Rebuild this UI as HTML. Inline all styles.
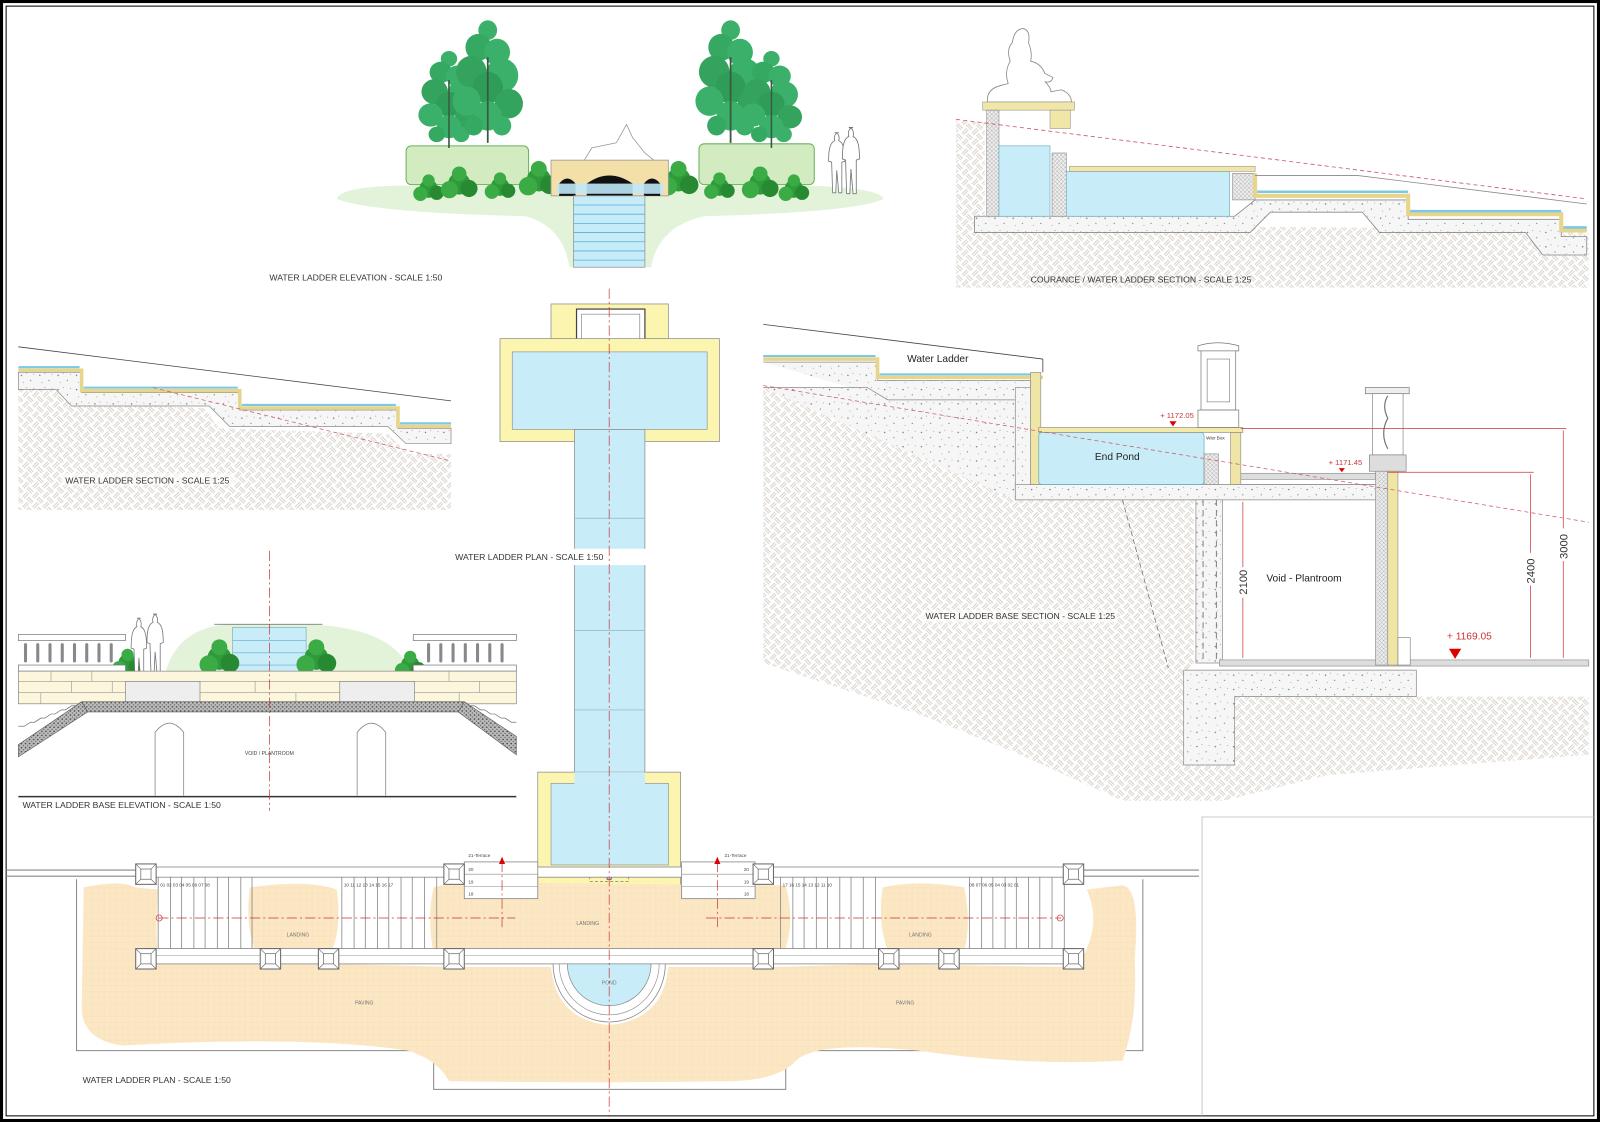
<!DOCTYPE html>
<html><head><meta charset="utf-8"><style>
html,body{margin:0;padding:0;background:#fff;}
svg{display:block;}
text{font-family:"Liberation Sans",sans-serif;}
</style></head><body>
<svg width="1600" height="1122" viewBox="0 0 1568 1100" preserveAspectRatio="none" xmlns="http://www.w3.org/2000/svg">
<defs>
<pattern id="hatch" width="14" height="14" patternUnits="userSpaceOnUse" patternTransform="rotate(45)">
<rect width="14" height="14" fill="#fff"/>
<path d="M0 3H7M0 5H7M7 10H14M7 12H14M3 7V14M5 7V14M10 0V7M12 0V7" stroke="#d4ccc4" stroke-width="0.9"/>
</pattern>
<pattern id="conc" width="18" height="14" patternUnits="userSpaceOnUse">
<rect width="18" height="14" fill="#f6f6f6"/>
<circle cx="3" cy="4" r="0.7" fill="#777"/><circle cx="12" cy="9" r="0.6" fill="#777"/><circle cx="8" cy="2" r="0.5" fill="#999"/><circle cx="15" cy="3" r="0.5" fill="#999"/><circle cx="5" cy="11" r="0.5" fill="#999"/>
</pattern>
<pattern id="grid" width="6" height="6" patternUnits="userSpaceOnUse">
<rect width="6" height="6" fill="#fbe7c3"/><path d="M0 0H6M0 0V6" stroke="#f2dab0" stroke-width="0.4"/>
</pattern>
<pattern id="xh" width="4" height="4" patternUnits="userSpaceOnUse">
<rect width="4" height="4" fill="#eee"/><path d="M0 0L4 4M4 0L0 4" stroke="#999" stroke-width="0.4"/>
</pattern>
<pattern id="grav" width="4" height="4" patternUnits="userSpaceOnUse">
<rect width="4" height="4" fill="#bbb"/><circle cx="1" cy="1" r="0.8" fill="#444"/><circle cx="3" cy="3" r="0.7" fill="#666"/>
</pattern>
<g id="tree">
<line x1="0" y1="-100" x2="0" y2="0" stroke="#555" stroke-width="1.2"/>
<circle cx="0" cy="-92" r="8" fill="#3bb06a"/><circle cx="-8" cy="-78" r="11" fill="#35a862"/><circle cx="8" cy="-74" r="11" fill="#3bb06a"/>
<circle cx="-14" cy="-58" r="13" fill="#33a35e"/><circle cx="12" cy="-55" r="14" fill="#3bb06a"/><circle cx="0" cy="-45" r="13" fill="#2f9d59"/>
<circle cx="-18" cy="-34" r="12" fill="#3bb06a"/><circle cx="18" cy="-32" r="12" fill="#33a35e"/><circle cx="0" cy="-22" r="12" fill="#3bb06a"/>
<circle cx="-12" cy="-14" r="8" fill="#35a862"/><circle cx="12" cy="-14" r="8" fill="#3bb06a"/>
<line x1="0" y1="-70" x2="0" y2="0" stroke="#3a5a40" stroke-width="1.5"/>
</g>
<g id="bush">
<circle cx="0" cy="0" r="9" fill="#2f9a3a"/><circle cx="-8" cy="5" r="7" fill="#3aab45"/><circle cx="8" cy="4" r="7" fill="#278a32"/><circle cx="0" cy="-8" r="6" fill="#3aab45"/>
</g>
<g id="pier"><rect x="-10" y="-10" width="20" height="20" fill="#fff" stroke="#666" stroke-width="1"/><rect x="-5" y="-5" width="10" height="10" fill="none" stroke="#666" stroke-width="0.7"/><path d="M-10-10L-5-5M10-10L5-5M-10 10L-5 5M10 10L5 5" stroke="#666" stroke-width="0.6"/></g>
<g id="person"><path d="M0 0c-4 0-5 5-4 8c-5 2-6 10-6 20l3 1l1 30h3l1-22l2 22h3l0-30l3-1c0-10-1-18-6-20c1-3 0-8-4-8z" fill="#fff" stroke="#777" stroke-width="0.8"/></g>
</defs>

<rect x="1.5" y="1.5" width="1565" height="1097" fill="#fff" stroke="#000" stroke-width="3"/>
<rect x="6" y="6" width="1556" height="1088" fill="none" stroke="#000" stroke-width="1"/>

<!-- TOP ELEVATION -->
<path d="M330,195 Q335,182 400,182 L790,182 Q862,184 866,195 Q840,208 690,212 Q645,222 638,262 L558,262 Q552,222 515,212 Q360,208 330,195Z" fill="#e2f3da"/>
<rect x="398" y="143" width="120" height="38" rx="5" fill="#d2ebc0" stroke="#6bb25a" stroke-width="1"/>
<rect x="685" y="141" width="113" height="40" rx="5" fill="#d2ebc0" stroke="#6bb25a" stroke-width="1"/>
<use href="#tree" transform="translate(440,145) scale(1,0.95)"/>
<use href="#tree" transform="translate(478,140) scale(1.15,1.2)"/>
<use href="#tree" transform="translate(716,140) scale(1.15,1.2)"/>
<use href="#tree" transform="translate(756,145) scale(1,0.95)"/>
<use href="#bush" transform="translate(420,185)"/>
<use href="#bush" transform="translate(450,180) scale(1.2)"/>
<use href="#bush" transform="translate(490,183)"/>
<use href="#bush" transform="translate(528,176) scale(1.3)"/>
<use href="#bush" transform="translate(665,176) scale(1.3)"/>
<use href="#bush" transform="translate(705,183)"/>
<use href="#bush" transform="translate(745,180) scale(1.2)"/>
<use href="#bush" transform="translate(778,185)"/>
<path d="M572,158 L580,145 L604,140 L614,122 L620,135 L632,150 L642,158Z" fill="#fff" stroke="#999" stroke-width="0.8"/>
<rect x="540" y="157" width="115" height="35" fill="#f3dfa8" stroke="#999" stroke-width="0.8"/>
<path d="M548,192 V180 Q556,170 564,180 V192Z M575,192 V180 Q597,164 620,180 V192Z M631,192 V180 Q639,170 647,180 V192Z" fill="#111"/>
<rect x="546" y="180" width="104" height="10" fill="#bfe8f8" opacity="0.9"/>
<rect x="562" y="192" width="70" height="70" fill="#c7ecf9" stroke="#999" stroke-width="0.8"/>
<g stroke="#5aaed0" stroke-width="0.8"><line x1="562" y1="201" x2="632" y2="201"/><line x1="562" y1="210" x2="632" y2="210"/><line x1="562" y1="219" x2="632" y2="219"/><line x1="562" y1="228" x2="632" y2="228"/><line x1="562" y1="237" x2="632" y2="237"/><line x1="562" y1="246" x2="632" y2="246"/><line x1="562" y1="255" x2="632" y2="255"/></g>
<use href="#person" transform="translate(822,130)"/>
<use href="#person" transform="translate(836,125) scale(1.05,1.1)"/>
<text x="264" y="275" font-size="8.5" fill="#333">WATER LADDER ELEVATION - SCALE 1:50</text>

<!-- COURANCE SECTION -->
<path d="M937,118 L965,120 L965,282 L937,282Z M937,220 L1557,225 L1557,282 L937,282Z" fill="url(#hatch)"/>
<path d="M955,212 L1210,212 L1230,196 L1380,196 L1380,215 L1530,215 L1530,232 L1555,232 L1555,250 L1512,250 L1495,228 L1352,228 L1335,208 L1245,208 L1225,228 L955,228Z" fill="url(#conc)" stroke="#888" stroke-width="0.8"/>
<path d="M968,100 Q966,88 980,84 L988,82 Q984,70 990,60 Q986,48 992,42 Q994,28 1003,28 Q1010,30 1008,42 Q1012,52 1010,60 Q1020,62 1024,72 L1032,76 Q1030,82 1024,80 Q1030,86 1030,90 L1040,88 Q1050,92 1050,100Z" fill="#fff" stroke="#888" stroke-width="0.8"/>
<rect x="963" y="100" width="90" height="8" fill="#f0e6a8" stroke="#999" stroke-width="0.6"/>
<rect x="967" y="108" width="12" height="104" fill="url(#xh)" stroke="#888" stroke-width="0.6"/>
<rect x="979" y="143" width="50" height="69" fill="#c9ecf9" stroke="#6ab" stroke-width="0.6"/>
<rect x="1029" y="108" width="20" height="18" fill="#f0e6a8" stroke="#999" stroke-width="0.6"/>
<rect x="1031" y="150" width="14" height="62" fill="url(#xh)" stroke="#888" stroke-width="0.6"/>
<rect x="1045" y="168" width="160" height="44" fill="#c9ecf9" stroke="#6ab" stroke-width="0.6"/>
<rect x="1048" y="163" width="182" height="5" fill="#f0e6a8" stroke="#999" stroke-width="0.6"/>
<rect x="1208" y="170" width="22" height="26" fill="url(#xh)" stroke="#888" stroke-width="0.6"/>
<path d="M1230,170 V192 H1380 V210 H1530 V226 H1555" fill="none" stroke="#e6d58a" stroke-width="4"/>
<path d="M1232,188 H1380 M1382,207 H1530 M1532,223 H1555" stroke="#7cc8e8" stroke-width="2.5"/>
<path d="M1230,172 L1330,172 L1555,200" fill="none" stroke="#888" stroke-width="0.8"/>
<line x1="937" y1="117" x2="1555" y2="195" stroke="#c56" stroke-width="0.8" stroke-dasharray="4,3"/>
<text x="1010" y="277" font-size="8.5" fill="#333">COURANCE / WATER LADDER SECTION - SCALE 1:25</text>

<!-- WATER LADDER SECTION (left) -->
<path d="M18,375 L50,380 L70,395 L200,400 L215,420 L380,425 L400,445 L442,445 L442,500 L18,500Z" fill="url(#hatch)"/>
<path d="M18,365 L80,365 L80,385 L235,385 L235,402 L390,402 L390,420 L442,420 L442,435 L398,435 L380,418 L225,418 L205,398 L70,398 L55,382 L18,382Z" fill="url(#conc)" stroke="#888" stroke-width="0.7"/>
<path d="M18,363 H80 V383 H235 V400 H390 V418 H442" fill="none" stroke="#e6d58a" stroke-width="3.5"/>
<path d="M18,360 H78 M82,380 H233 M237,397 H388 M392,415 H442" stroke="#7cc8e8" stroke-width="2"/>
<line x1="18" y1="340" x2="442" y2="393" stroke="#444" stroke-width="0.8"/>
<line x1="150" y1="380" x2="442" y2="452" stroke="#c56" stroke-width="0.7" stroke-dasharray="4,3"/>
<rect x="60" y="464" width="170" height="12" fill="#fff" opacity="0.6"/>
<text x="64" y="474" font-size="8.5" fill="#333">WATER LADDER SECTION - SCALE 1:25</text>

<!-- BASE ELEVATION (left) -->
<path d="M160,668 Q170,615 225,612 L300,612 Q395,615 405,668Z" fill="#e2f3da"/>
<rect x="228" y="615" width="72" height="53" fill="#c9ecf9" stroke="#6ab" stroke-width="0.6"/>
<g stroke="#5aaed0" stroke-width="0.6"><line x1="228" y1="628" x2="300" y2="628"/><line x1="228" y1="640" x2="300" y2="640"/><line x1="228" y1="652" x2="300" y2="652"/></g>
<line x1="210" y1="612" x2="316" y2="612" stroke="#666" stroke-width="0.8"/>
<use href="#bush" transform="translate(215,645) scale(1.3)"/><use href="#bush" transform="translate(310,645) scale(1.3)"/>
<use href="#bush" transform="translate(125,650)"/><use href="#bush" transform="translate(402,652)"/>
<use href="#person" transform="translate(138,606) scale(0.95,1.05)"/><use href="#person" transform="translate(154,602)"/>
<g fill="#fff" stroke="#777" stroke-width="0.7">
<rect x="18" y="622" width="105" height="6"/><rect x="405" y="622" width="101" height="6"/>
<rect x="18" y="652" width="105" height="6"/><rect x="405" y="652" width="101" height="6"/>
</g>
<g stroke="#888" stroke-width="3" stroke-linecap="round">
<line x1="25" y1="632" x2="25" y2="648"/><line x1="37" y1="632" x2="37" y2="648"/><line x1="49" y1="632" x2="49" y2="648"/><line x1="61" y1="632" x2="61" y2="648"/><line x1="73" y1="632" x2="73" y2="648"/><line x1="85" y1="632" x2="85" y2="648"/><line x1="97" y1="632" x2="97" y2="648"/><line x1="109" y1="632" x2="109" y2="648"/>
<line x1="420" y1="632" x2="420" y2="648"/><line x1="432" y1="632" x2="432" y2="648"/><line x1="444" y1="632" x2="444" y2="648"/><line x1="456" y1="632" x2="456" y2="648"/><line x1="468" y1="632" x2="468" y2="648"/><line x1="480" y1="632" x2="480" y2="648"/><line x1="492" y1="632" x2="492" y2="648"/>
</g>
<rect x="18" y="658" width="488" height="32" fill="#fbf6dc" stroke="#888" stroke-width="0.7"/>
<g stroke="#999" stroke-width="0.6"><line x1="18" y1="668" x2="506" y2="668"/><line x1="18" y1="679" x2="506" y2="679"/>
<line x1="50" y1="658" x2="50" y2="668"/><line x1="90" y1="658" x2="90" y2="668"/><line x1="70" y1="668" x2="70" y2="679"/><line x1="110" y1="668" x2="110" y2="679"/><line x1="40" y1="679" x2="40" y2="690"/><line x1="250" y1="668" x2="250" y2="679"/><line x1="290" y1="679" x2="290" y2="690"/><line x1="440" y1="658" x2="440" y2="668"/><line x1="470" y1="668" x2="470" y2="679"/><line x1="450" y1="679" x2="450" y2="690"/></g>
<rect x="123" y="668" width="73" height="22" fill="#eee" stroke="#777" stroke-width="0.6"/>
<rect x="333" y="668" width="73" height="22" fill="#eee" stroke="#777" stroke-width="0.6"/>
<rect x="80" y="688" width="375" height="10" fill="url(#grav)" stroke="#555" stroke-width="0.6"/>
<path d="M80,688 L18,730 L18,742 L86,698Z M455,688 L506,722 L506,740 L449,698Z" fill="url(#grav)" stroke="#555" stroke-width="0.6"/>
<path d="M80,688 L74,692 L70,692 L64,696 L60,696 L54,700 L50,700 L44,704 L40,704 L34,708 L30,708 L24,712 L18,712" fill="none" stroke="#555" stroke-width="0.6"/>
<path d="M455,688 L461,692 L465,692 L471,696 L475,696 L481,700 L485,700 L491,704 L495,704 L501,708 L506,708" fill="none" stroke="#555" stroke-width="0.6"/>
<path d="M152,780 V718 Q166,700 180,718 V780 M350,780 V718 Q364,700 378,718 V780" fill="none" stroke="#888" stroke-width="0.8"/>
<line x1="18" y1="781" x2="506" y2="781" stroke="#333" stroke-width="1.5"/>
<line x1="264" y1="540" x2="264" y2="795" stroke="#c33" stroke-width="0.7" stroke-dasharray="10,3,2,3"/>
<text x="264" y="740" font-size="5" fill="#444" text-anchor="middle">VOID / PLANTROOM</text>
<text x="22" y="792" font-size="8.5" fill="#333">WATER LADDER BASE ELEVATION - SCALE 1:50</text>

<!-- CENTRAL PLAN -->
<rect x="540" y="298" width="115" height="36" fill="#fbf5b0" stroke="#888" stroke-width="0.7"/>
<rect x="565" y="303" width="67" height="36" fill="#fff" stroke="#444" stroke-width="1.2"/>
<rect x="570" y="308" width="57" height="26" fill="none" stroke="#777" stroke-width="0.6"/>
<rect x="490" y="332" width="215" height="101" fill="#fbf5b0" stroke="#888" stroke-width="0.7"/>
<rect x="502" y="345" width="191" height="76" fill="#c9ecf9" stroke="#888" stroke-width="0.6"/>
<rect x="563" y="421" width="69" height="351" fill="#c9ecf9" stroke="#888" stroke-width="0.7"/>
<g stroke="#8ab" stroke-width="0.6"><line x1="563" y1="508" x2="632" y2="508"/><line x1="563" y1="618" x2="632" y2="618"/><line x1="563" y1="696" x2="632" y2="696"/></g>
<rect x="527" y="757" width="140" height="113" fill="#fbf5b0" stroke="#888" stroke-width="0.7"/>
<rect x="540" y="768" width="115" height="80" fill="#c9ecf9" stroke="#888" stroke-width="0.6"/>
<rect x="563" y="757" width="69" height="15" fill="#c9ecf9"/>
<rect x="578" y="852" width="38" height="12" fill="none" stroke="#666" stroke-width="0.6" stroke-dasharray="3,2"/>
<rect x="595" y="858" width="4" height="4" fill="none" stroke="#339" stroke-width="0.8"/>
<rect x="440" y="538" width="196" height="16" fill="#fff"/>
<text x="446" y="549" font-size="8.5" fill="#333">WATER LADDER PLAN - SCALE 1:50</text>

<!-- BASE SECTION (right) -->
<path d="M748,380 L995,395 L995,490 L1100,490 L1170,490 L1170,650 L1160,660 L1160,750 L1210,750 L1210,683 L1557,683 L1557,740 L1300,760 L1200,785 L1100,785 L1000,740 L900,700 L748,650Z" fill="url(#hatch)"/>
<path d="M748,355 L860,355 L860,373 L1010,373 L1010,420 L995,420 L995,490 L1360,490 L1360,475 L1210,475 L1210,490 M748,380 L850,380 L870,392 L995,392 L995,490" fill="url(#conc)" stroke="#888" stroke-width="0.7"/>
<path d="M748,352 H860 V370 H1010 L1022,370" fill="none" stroke="#e6d58a" stroke-width="3.5"/>
<path d="M748,349 H858 M862,367 H1020" stroke="#7cc8e8" stroke-width="2"/>
<path d="M995,475 L1360,475 L1360,490 L995,490Z" fill="url(#conc)" stroke="#888" stroke-width="0.7"/>
<path d="M995,380 L1010,380 L1010,475 L995,475Z" fill="url(#conc)" stroke="#888" stroke-width="0.6"/>
<rect x="1010" y="365" width="10" height="110" fill="#efe6a6" stroke="#888" stroke-width="0.6"/>
<rect x="1018" y="424" width="162" height="51" rx="3" fill="#c9ecf9" stroke="#6ab" stroke-width="0.7"/>
<rect x="1018" y="419" width="200" height="5" fill="#f3e9a8" stroke="#888" stroke-width="0.6"/>
<rect x="1180" y="445" width="14" height="30" fill="url(#xh)" stroke="#888" stroke-width="0.6"/>
<rect x="1206" y="424" width="10" height="51" fill="#efe6a6" stroke="#888" stroke-width="0.6"/>
<rect x="1216" y="464" width="132" height="6" fill="#ddd" stroke="#888" stroke-width="0.6"/>
<line x1="748" y1="318" x2="1022" y2="352" stroke="#444" stroke-width="0.8"/>
<line x1="1022" y1="352" x2="1022" y2="365" stroke="#444" stroke-width="0.8"/>
<rect x="1172" y="490" width="26" height="160" fill="url(#conc)" stroke="#888" stroke-width="0.7"/>
<line x1="1179" y1="490" x2="1179" y2="650" stroke="#666" stroke-width="0.8" stroke-dasharray="6,4"/>
<line x1="1192" y1="490" x2="1192" y2="650" stroke="#666" stroke-width="0.8" stroke-dasharray="6,4"/>
<line x1="1100" y1="490" x2="1145" y2="655" stroke="#777" stroke-width="0.8" stroke-dasharray="5,3"/>
<path d="M1160,657 L1388,657 L1388,683 L1210,683 L1210,750 L1160,750Z" fill="url(#conc)" stroke="#888" stroke-width="0.7"/>
<rect x="1195" y="647" width="362" height="6" fill="#ddd" stroke="#888" stroke-width="0.6"/>
<path d="M1174,339 Q1193,333 1214,339 L1214,344 L1174,344Z" fill="#fff" stroke="#777" stroke-width="0.7"/>
<rect x="1177" y="344" width="34" height="58" fill="#fff" stroke="#777" stroke-width="0.7"/>
<rect x="1183" y="352" width="22" height="42" fill="none" stroke="#777" stroke-width="0.6"/>
<rect x="1174" y="402" width="40" height="17" fill="#fff" stroke="#777" stroke-width="0.7"/>
<rect x="1338" y="380" width="43" height="6" fill="#eee" stroke="#777" stroke-width="0.7"/>
<rect x="1345" y="386" width="30" height="60" fill="#fff" stroke="#777" stroke-width="0.6"/>
<path d="M1360,388 Q1354,398 1360,410 Q1352,425 1360,440" fill="none" stroke="#777" stroke-width="1.2"/>
<rect x="1342" y="446" width="36" height="16" fill="#ddd" stroke="#777" stroke-width="0.6"/>
<rect x="1348" y="462" width="12" height="190" fill="url(#xh)" stroke="#888" stroke-width="0.6"/>
<rect x="1360" y="462" width="10" height="190" fill="#efe6a6" stroke="#888" stroke-width="0.6"/>
<rect x="1370" y="625" width="12" height="27" fill="#fff" stroke="#777" stroke-width="0.6"/>
<g stroke="#c33" stroke-width="0.7" fill="none">
<line x1="1216" y1="420" x2="1535" y2="420"/><line x1="1360" y1="463" x2="1503" y2="463"/>
<line x1="1218" y1="492" x2="1218" y2="645"/><line x1="1500" y1="465" x2="1500" y2="645"/><line x1="1532" y1="422" x2="1532" y2="645"/>
</g>
<line x1="748" y1="378" x2="1557" y2="512" stroke="#c56" stroke-width="0.7" stroke-dasharray="4,3"/>
<g fill="#d00"><path d="M1146,413 h7 l-3.5,5z"/><path d="M1312,459 h6 l-3,4z"/><path d="M1420,636 h12 l-6,10z"/></g>
<g fill="#fff"><rect x="1212" y="556" width="12" height="30"/><rect x="1494" y="542" width="12" height="32"/><rect x="1526" y="518" width="12" height="32"/></g>
<text transform="translate(1222,583) rotate(-90)" font-size="11" fill="#333">2100</text>
<text transform="translate(1504,572) rotate(-90)" font-size="11" fill="#333">2400</text>
<text transform="translate(1536,548) rotate(-90)" font-size="11" fill="#333">3000</text>
<text x="1137" y="410" font-size="7.5" fill="#c33">+ 1172.05</text>
<text x="1302" y="456" font-size="7.5" fill="#c33">+ 1171.45</text>
<text x="1418" y="627" font-size="10" fill="#c33">+ 1169.05</text>
<text x="889" y="355" font-size="10" fill="#222">Water Ladder</text>
<text x="1073" y="451" font-size="10" fill="#222">End Pond</text>
<text x="1182" y="431" font-size="4.5" fill="#333">Wier Box</text>
<text x="1241" y="570" font-size="10" fill="#222">Void - Plantroom</text>
<rect x="903" y="598" width="192" height="12" fill="#fff" opacity="0.6"/>
<text x="907" y="607" font-size="8.5" fill="#333">WATER LADDER BASE SECTION - SCALE 1:25</text>

<path d="M1178,1094 V801 H1562" fill="none" stroke="#bbb" stroke-width="0.8"/>

<!-- BOTTOM PLAN -->
<path d="M75,862 V1030 H425 V1068 H770 V1030 H1120 V862" fill="none" stroke="#888" stroke-width="1"/>
<path d="M82,870 Q120,862 132,870 L155,872 Q150,940 160,945 L250,945 L330,945 L445,948 L540,948 Q545,1000 597,1005 Q650,1000 655,948 L760,948 L860,945 L1050,948 L1060,940 Q1080,905 1065,872 L1100,868 Q1118,870 1112,940 Q1115,1000 1100,1040 Q1000,1045 900,1030 Q800,1020 780,1040 Q760,1062 700,1060 Q600,1062 440,1060 Q430,1040 400,1030 Q300,1015 120,1025 Q82,1020 80,990Z" fill="url(#grid)"/>
<path d="M245,870 Q300,862 330,872 Q335,910 325,932 L250,932 Q240,905 245,870Z M425,870 L445,865 L770,868 Q780,905 768,935 L425,935 Q418,900 425,870Z M865,870 Q900,862 945,870 Q952,905 945,932 L870,932 Q860,905 865,870Z" fill="url(#grid)"/>
<line x1="6" y1="853" x2="1175" y2="853" stroke="#888" stroke-width="1"/>
<line x1="6" y1="859" x2="1175" y2="859" stroke="#888" stroke-width="1"/>
<rect x="143" y="850" width="910" height="10" fill="#fff" stroke="#888" stroke-width="0.8"/>
<rect x="143" y="930" width="910" height="15" fill="#fff" stroke="#888" stroke-width="0.8"/>
<line x1="143" y1="937" x2="1053" y2="937" stroke="#aaa" stroke-width="0.6"/>
<g stroke="#888" stroke-width="0.8">
<line x1="155" y1="860" x2="155" y2="930"/><line x1="167" y1="860" x2="167" y2="930"/><line x1="178" y1="860" x2="178" y2="930"/><line x1="190" y1="860" x2="190" y2="930"/><line x1="201" y1="860" x2="201" y2="930"/><line x1="213" y1="860" x2="213" y2="930"/><line x1="224" y1="860" x2="224" y2="930"/><line x1="236" y1="860" x2="236" y2="930"/><line x1="247" y1="860" x2="247" y2="930"/>
<line x1="335" y1="860" x2="335" y2="930"/><line x1="347" y1="860" x2="347" y2="930"/><line x1="358" y1="860" x2="358" y2="930"/><line x1="370" y1="860" x2="370" y2="930"/><line x1="381" y1="860" x2="381" y2="930"/><line x1="393" y1="860" x2="393" y2="930"/><line x1="404" y1="860" x2="404" y2="930"/><line x1="416" y1="860" x2="416" y2="930"/><line x1="428" y1="860" x2="428" y2="930"/>
<line x1="765" y1="860" x2="765" y2="930"/><line x1="777" y1="860" x2="777" y2="930"/><line x1="788" y1="860" x2="788" y2="930"/><line x1="800" y1="860" x2="800" y2="930"/><line x1="811" y1="860" x2="811" y2="930"/><line x1="823" y1="860" x2="823" y2="930"/><line x1="834" y1="860" x2="834" y2="930"/><line x1="846" y1="860" x2="846" y2="930"/><line x1="858" y1="860" x2="858" y2="930"/>
<line x1="950" y1="860" x2="950" y2="930"/><line x1="962" y1="860" x2="962" y2="930"/><line x1="973" y1="860" x2="973" y2="930"/><line x1="985" y1="860" x2="985" y2="930"/><line x1="996" y1="860" x2="996" y2="930"/><line x1="1008" y1="860" x2="1008" y2="930"/><line x1="1019" y1="860" x2="1019" y2="930"/><line x1="1031" y1="860" x2="1031" y2="930"/><line x1="1043" y1="860" x2="1043" y2="930"/>
</g>
<g font-size="4.5" fill="#444"><text x="157" y="869">01 02 03 04 05 06 07 08</text><text x="337" y="869">10 11 12 13 14 15 16 17</text><text x="767" y="869">17 16 15 14 13 12 11 10</text><text x="950" y="869">08 07 06 05 04 03 02 01</text></g>
<g fill="#fff" stroke="#888" stroke-width="0.8">
<rect x="455" y="845" width="72" height="36"/><rect x="668" y="845" width="72" height="36"/>
</g>
<g stroke="#888" stroke-width="0.6"><line x1="455" y1="857" x2="527" y2="857"/><line x1="455" y1="869" x2="527" y2="869"/><line x1="668" y1="857" x2="740" y2="857"/><line x1="668" y1="869" x2="740" y2="869"/></g>
<g font-size="4.5" fill="#444"><text x="459" y="854">20</text><text x="459" y="866">19</text><text x="459" y="878">18</text><text x="729" y="854">20</text><text x="729" y="866">19</text><text x="729" y="878">18</text>
<text x="459" y="840">21-Terrace</text><text x="710" y="840">21-Terrace</text></g>
<path d="M542,945 A55,57 0 0 0 652,945Z" fill="#fff" stroke="#888" stroke-width="0.8"/>
<path d="M548,945 A49,50 0 0 0 646,945" fill="none" stroke="#888" stroke-width="0.6"/>
<path d="M556,945 A41,41 0 0 0 638,945Z" fill="#c9ecf9" stroke="#888" stroke-width="0.7"/>
<use href="#pier" transform="translate(143,857)"/><use href="#pier" transform="translate(445,857)"/><use href="#pier" transform="translate(748,857)"/><use href="#pier" transform="translate(1052,857)"/>
<use href="#pier" transform="translate(143,940)"/><use href="#pier" transform="translate(265,940)"/><use href="#pier" transform="translate(322,940)"/><use href="#pier" transform="translate(445,940)"/>
<use href="#pier" transform="translate(748,940)"/><use href="#pier" transform="translate(871,940)"/><use href="#pier" transform="translate(930,940)"/><use href="#pier" transform="translate(1052,940)"/>
<g stroke="#c33" stroke-width="0.7" stroke-dasharray="10,3,2,3" fill="none">
<line x1="155" y1="900" x2="505" y2="900"/><line x1="692" y1="900" x2="1040" y2="900"/>
<line x1="597" y1="283" x2="597" y2="1095"/>
<line x1="492" y1="845" x2="492" y2="910"/><line x1="703" y1="845" x2="703" y2="910"/>
</g>
<circle cx="156" cy="900" r="3" fill="none" stroke="#c33" stroke-width="0.7"/>
<circle cx="1039" cy="900" r="3" fill="none" stroke="#c33" stroke-width="0.7"/>
<path d="M489,847 L492,840 L495,847Z M700,847 L703,840 L706,847Z" fill="#d00"/>
<g font-size="5" fill="#777" text-anchor="middle"><text x="292" y="918">LANDING</text><text x="576" y="907">LANDING</text><text x="902" y="918">LANDING</text><text x="357" y="985">PAVING</text><text x="887" y="985">PAVING</text><text x="597" y="965">POND</text></g>
<text x="81" y="1062" font-size="8.5" fill="#333">WATER LADDER PLAN  - SCALE 1:50</text>
</svg>
</body></html>
